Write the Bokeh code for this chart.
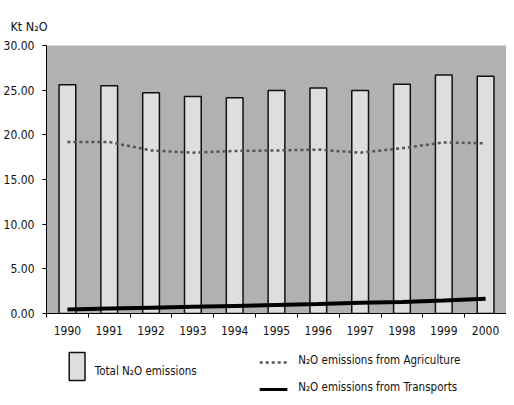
from bokeh.plotting import figure
from bokeh.layouts import column
from bokeh.models import Range1d, FixedTicker, NumeralTickFormatter
from bokeh.core.properties import value
from bokeh.embed import file_html
from bokeh.resources import INLINE

years = ["1990", "1991", "1992", "1993", "1994", "1995", "1996", "1997", "1998", "1999", "2000"]
total_n2o = [25.6, 25.5, 24.7, 24.3, 24.15, 24.95, 25.25, 24.95, 25.65, 26.7, 26.55]
agriculture_n2o = [19.2, 19.2, 18.25, 18.0, 18.2, 18.25, 18.35, 18.0, 18.5, 19.15, 19.05]
transports_n2o = [0.45, 0.55, 0.65, 0.75, 0.85, 0.95, 1.05, 1.2, 1.3, 1.45, 1.65]
y_ticks = [0, 5, 10, 15, 20, 25, 30]

FONT = "DejaVu Sans Condensed, DejaVu Sans, sans-serif"
TXT = "#111111"
W = 506

xs = [i + 0.5 for i in range(len(years))]

p = figure(width=W, height=343, x_range=Range1d(0, len(years)), y_range=Range1d(0, 30),
           output_backend="svg", toolbar_location=None,
           min_border_left=40, min_border_right=0, min_border_top=45, min_border_bottom=30)
p.grid.visible = False
p.outline_line_color = None
p.background_fill_color = "#B1B1B1"
p.border_fill_color = "white"

p.title.text = "Kt N\u2082O"
p.title.align = "left"
p.title.offset = -36
p.title.standoff = 24
p.title.text_font = FONT
p.title.text_font_size = "12.5px"
p.title.text_font_style = "normal"
p.title.text_color = TXT

p.vbar(x=xs, top=total_n2o, bottom=0, width=0.40, fill_color="#DEDEDE",
       line_color="#111111", line_width=1.5)
p.line(x=xs, y=agriculture_n2o, line_color="#555555", line_width=2.5, line_dash="3 3")
p.line(x=xs, y=transports_n2o, line_color="#000000", line_width=4)

p.yaxis.ticker = FixedTicker(ticks=y_ticks)
p.yaxis.formatter = NumeralTickFormatter(format="0.00")
p.yaxis.major_tick_out = 4
p.yaxis.major_tick_in = 0
p.yaxis.minor_tick_out = 0
p.yaxis.major_label_standoff = 8
p.yaxis.axis_line_color = "#000000"

p.xaxis.ticker = FixedTicker(ticks=xs, minor_ticks=list(range(len(years) + 1)))
p.xaxis.major_label_overrides = {x: y for x, y in zip(xs, years)}
p.xaxis.major_tick_out = 0
p.xaxis.major_tick_in = 0
p.xaxis.minor_tick_out = 4
p.xaxis.minor_tick_in = 0
p.xaxis.minor_tick_line_color = "#000000"
p.xaxis.major_label_standoff = 8
p.xaxis.axis_line_color = "#000000"

for ax in (p.xaxis, p.yaxis):
    ax.major_label_text_font = FONT
    ax.major_label_text_font_size = "12px"
    ax.major_label_text_color = TXT

# legend panel (its frame is aligned with the chart frame)
leg = figure(width=W, height=54, x_range=Range1d(48, 8 + W), y_range=Range1d(397, 343),
             output_backend="svg", toolbar_location=None,
             min_border_left=40, min_border_right=0, min_border_top=0, min_border_bottom=0,
             x_axis_location=None, y_axis_location=None)
leg.grid.visible = False
leg.outline_line_color = None
leg.quad(left=[71], right=[87], top=[352], bottom=[380], fill_color="#DEDEDE",
         line_color="#111111", line_width=1.5)
leg.text(x=[97], y=[370], text=["Total N\u2082O emissions"], text_font=value(FONT),
         text_font_size="11.5px", text_baseline="middle", text_color=TXT)
leg.line(x=[264, 292], y=[362, 362], line_color="#555555", line_width=2.5, line_dash="3 3")
leg.text(x=[303], y=[359], text=["N\u2082O emissions from Agriculture"], text_font=value(FONT),
         text_font_size="11.5px", text_baseline="middle", text_color=TXT)
leg.line(x=[264, 292], y=[389, 389], line_color="#000000", line_width=3)
leg.text(x=[303], y=[386], text=["N\u2082O emissions from Transports"], text_font=value(FONT),
         text_font_size="11.5px", text_baseline="middle", text_color=TXT)

layout = column(p, leg, spacing=0)
open("out.html", "w").write(file_html(layout, INLINE))
